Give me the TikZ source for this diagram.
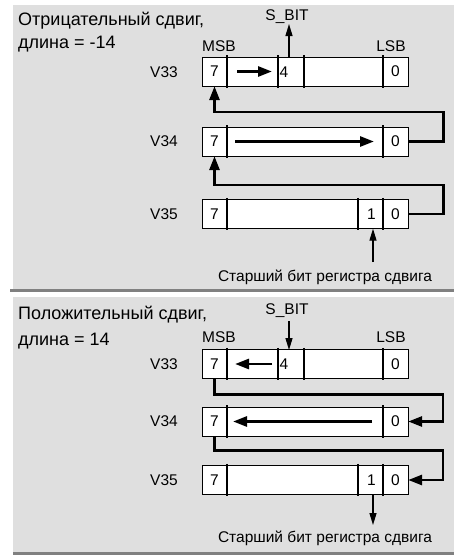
\documentclass[tikz,border=0pt]{standalone}
\usepackage{fontspec}
\setmainfont{Liberation Sans}
\usetikzlibrary{arrows.meta}
\definecolor{panelgray}{HTML}{DFDFDF}
\definecolor{rulegray}{HTML}{808080}
\begin{document}
\begin{tikzpicture}[x=1pt,y=-1pt,
  lbl/.style={font=\fontsize{15.5}{17}\selectfont, inner sep=0},
  ttl/.style={font=\fontsize{18}{21}\selectfont, anchor=west, inner sep=0},
  reg/.style={draw=black, line width=0.8pt, fill=white, minimum width=206pt, minimum height=29pt, inner sep=0},
  cell/.style={minimum width=25pt, minimum height=29pt, inner sep=0, font=\fontsize{15.5}{17}\selectfont},
  divider/.style={line width=2.2pt},
  flow/.style={line width=2.8pt, -{Triangle[length=14pt,width=10pt]}},
  ptr/.style={line width=1.3pt, -{Triangle[length=12pt,width=7pt]}},
]
\useasboundingbox (0,0) rectangle (454,555);
% panels
\fill[panelgray] (13,5) rectangle (454,289);
\fill[rulegray] (10,289) rectangle (454,292);
\fill[panelgray] (13,297) rectangle (454,552);
\fill[rulegray] (13,552) rectangle (454,555);

% ---------------- panel 1 ----------------
\node[ttl] (t1a) at (18,21) {Отрицательный сдвиг,};
\node[ttl] (t1b) at (18,44) {длина = -14};
\node[lbl] (sbit1) at (287,17) {S\_BIT};
\node[lbl] (msb1) at (219,46) {MSB};
\node[lbl] (lsb1) at (391,46) {LSB};
\node[lbl] (v33a) at (164,72) {V33};
\node[lbl] (v34a) at (164,141.5) {V34};
\node[lbl] (v35a) at (164,214) {V35};

\node[reg] (ra) at (305,71.5) {};
\node[reg] (rb) at (305,141.5) {};
\node[reg] (rc) at (305,214) {};
\foreach \d in {25,76,102,181}
  \draw[divider] ([xshift=\d pt,yshift=1.2pt]ra.north west) -- ([xshift=\d pt,yshift=-1.2pt]ra.south west);
\foreach \d in {25,181}
  \draw[divider] ([xshift=\d pt,yshift=1.2pt]rb.north west) -- ([xshift=\d pt,yshift=-1.2pt]rb.south west);
\foreach \d in {25,156,181}
  \draw[divider] ([xshift=\d pt,yshift=1.2pt]rc.north west) -- ([xshift=\d pt,yshift=-1.2pt]rc.south west);

\node[cell] (a7) at (214.5,71.5) {7};
\node[lbl, anchor=west] (a4) at (279.5,72) {4};
\node[cell] (a0) at (395.5,71.5) {0};
\node[cell] (b7) at (214.5,141.5) {7};
\node[cell] (b0) at (395.5,141.5) {0};
\node[cell] (c7) at (214.5,214) {7};
\node[cell] (c1) at (371.5,214) {1};
\node[cell] (c0) at (395.5,214) {0};

\coordinate (aL) at (237,71.5);
\coordinate (aR) at (272,71.5);
\draw[flow] (aL) -- (aR);
\coordinate (bL) at (235,141.5);
\coordinate (bR) at (374,141.5);
\draw[flow] (bL) -- (bR);

\draw[flow] (b0.east) -| ++(35,-29.5) -| (a7.south);
\draw[flow] (c0.east) -| ++(35,-29) -| (b7.south);

\coordinate (s1) at (289,57);
\coordinate (s1top) at (289,24);
\draw[ptr] (s1) -- (s1top);

\node[lbl] (hb1) at (325,277) {Старший бит регистра сдвига};
\coordinate (pa) at (373,262);
\draw[ptr] (pa) -- (pa |- c1.south);

% ---------------- panel 2 ----------------
\node[ttl] (t2a) at (18,315) {Положительный сдвиг,};
\node[ttl] (t2b) at (18,341) {длина = 14};
\node[lbl] (sbit2) at (287,311) {S\_BIT};
\node[lbl] (msb2) at (219,337) {MSB};
\node[lbl] (lsb2) at (391,337) {LSB};
\node[lbl] (v33b) at (164,364) {V33};
\node[lbl] (v34b) at (164,421.5) {V34};
\node[lbl] (v35b) at (164,480) {V35};

\node[reg] (rd) at (305,364) {};
\node[reg] (re) at (305,421.5) {};
\node[reg] (rf) at (305,480) {};
\foreach \d in {25,76,102,181}
  \draw[divider] ([xshift=\d pt,yshift=1.2pt]rd.north west) -- ([xshift=\d pt,yshift=-1.2pt]rd.south west);
\foreach \d in {25,181}
  \draw[divider] ([xshift=\d pt,yshift=1.2pt]re.north west) -- ([xshift=\d pt,yshift=-1.2pt]re.south west);
\foreach \d in {25,156,181}
  \draw[divider] ([xshift=\d pt,yshift=1.2pt]rf.north west) -- ([xshift=\d pt,yshift=-1.2pt]rf.south west);

\node[cell] (d7) at (214.5,364) {7};
\node[lbl, anchor=west] (d4) at (279.5,364.5) {4};
\node[cell] (d0) at (395.5,364) {0};
\node[cell] (e7) at (214.5,421.5) {7};
\node[cell] (e0) at (395.5,421.5) {0};
\node[cell] (f7) at (214.5,480) {7};
\node[cell] (f1) at (371.5,480) {1};
\node[cell] (f0) at (395.5,480) {0};

\coordinate (dR) at (272,364);
\coordinate (dL) at (235,364);
\draw[flow] (dR) -- (dL);
\coordinate (eR) at (372,421.5);
\coordinate (eL) at (233,421.5);
\draw[flow] (eR) -- (eL);

\draw[flow] (d7.south) |- ++(228.5,15.5) |- (e0.east);
\draw[flow] (e7.south) |- ++(228.5,14) |- (f0.east);

\coordinate (s2) at (289,321);
\coordinate (s2bot) at (289,350);
\draw[ptr] (s2) -- (s2bot);

\node[lbl] (hb2) at (325,538) {Старший бит регистра сдвига};
\coordinate (pb) at (373,525);
\draw[ptr] (pb |- f1.south) -- (pb);
\end{tikzpicture}
\end{document}
